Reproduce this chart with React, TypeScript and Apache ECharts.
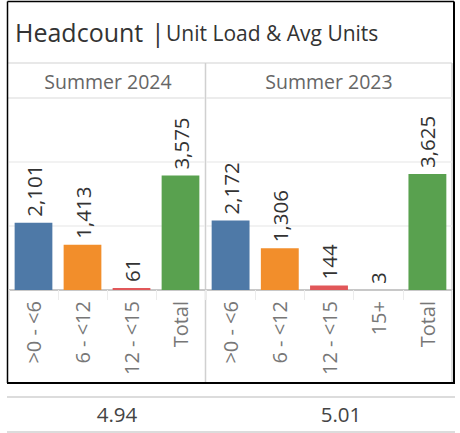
import React, { useEffect, useRef } from "react";
import * as echarts from "echarts";

const panels = ["Summer 2024", "Summer 2023"];
const categories2024 = [">0 - <6", "6 - <12", "12 - <15", "Total"];
const values2024 = [2101, 1413, 61, 3575];
const categories2023 = [">0 - <6", "6 - <12", "12 - <15", "15+", "Total"];
const values2023 = [2172, 1306, 144, 3, 3625];
const avgUnits = ["4.94", "5.01"];
const yTicks = { min: 0, max: 6000, interval: 2000 };

const colorFor: Record<string, string> = {
  ">0 - <6": "#4E79A7",
  "6 - <12": "#F28E2B",
  "12 - <15": "#E15759",
  "15+": "#76B7B2",
  Total: "#59A14F",
};

const FONT = "Open Sans";

export default function App() {
  const ref = useRef<HTMLDivElement>(null);
  useEffect(() => {
    document.body.style.margin = "0";
    const chart = echarts.init(ref.current!, undefined, { renderer: "svg" });
    const grids = [
      { left: 9, top: 98, width: 196, height: 192 },
      { left: 206, top: 98, width: 246, height: 192 },
    ];
    const cats = [categories2024, categories2023];
    const vals = [values2024, values2023];
    const xAxis = cats.map((c, i) => ({
      type: "category",
      gridIndex: i,
      data: c,
      axisLine: { show: true, lineStyle: { color: "#c8c8c8", width: 2 } },
      axisTick: { show: true, length: 10, lineStyle: { color: "#ececec", width: 1 } },
      axisLabel: {
        rotate: 90,
        color: "#777",
        fontSize: 20,
        fontFamily: FONT,
        margin: 11,
        interval: 0,
      },
    }));
    const yAxis = cats.map((_, i) => ({
      type: "value",
      gridIndex: i,
      min: yTicks.min,
      max: yTicks.max,
      interval: yTicks.interval,
      axisLine: { show: false },
      axisTick: { show: false },
      axisLabel: { show: false },
      splitLine: { show: true, lineStyle: { color: "#eeeeee", width: 1.5 } },
    }));
    const series = vals.map((v, i) => ({
      type: "bar",
      xAxisIndex: i,
      yAxisIndex: i,
      barWidth: "77%",
      data: v.map((val, j) => ({
        value: val,
        itemStyle: { color: colorFor[cats[i][j]] },
      })),
      label: {
        show: true,
        position: "top",
        rotate: 90,
        align: "left",
        verticalAlign: "middle",
        distance: 6,
        color: "#333",
        fontSize: 20.5,
        fontFamily: FONT,
        formatter: (p: any) => Number(p.value).toLocaleString("en-US"),
      },
    }));
    const gray = "#d0d0d0";
    chart.setOption({
      animation: false,
      grid: grids,
      xAxis,
      yAxis,
      series,
      graphic: [
        // panel lines
        { type: "line", shape: { x1: 8, y1: 63, x2: 452, y2: 63 }, style: { stroke: "#e0e0e0", lineWidth: 1.5 } },
        { type: "line", shape: { x1: 8, y1: 98, x2: 452, y2: 98 }, style: { stroke: "#e0e0e0", lineWidth: 1.5 } },
        { type: "line", shape: { x1: 205.5, y1: 63, x2: 205.5, y2: 383 }, style: { stroke: gray, lineWidth: 1.5 } },
        { type: "line", shape: { x1: 452, y1: 63, x2: 452, y2: 383 }, style: { stroke: gray, lineWidth: 1.5 } },
        // outer border
        { type: "line", shape: { x1: 7.5, y1: 1.5, x2: 454, y2: 1.5 }, style: { stroke: "#000", lineWidth: 1.5 } },
        { type: "line", shape: { x1: 7.5, y1: 1.5, x2: 7.5, y2: 383 }, style: { stroke: "#000", lineWidth: 1.5 } },
        { type: "line", shape: { x1: 454, y1: 1.5, x2: 454, y2: 384 }, style: { stroke: "#000", lineWidth: 2 } },
        { type: "line", shape: { x1: 7, y1: 383, x2: 455, y2: 383 }, style: { stroke: "#000", lineWidth: 2 } },
        // title
        {
          type: "text",
          x: 15,
          y: 32,
          style: { text: "Headcount", fontSize: 25, fontFamily: FONT, fill: "#333", verticalAlign: "middle" },
        },
        {
          type: "text",
          x: 151,
          y: 32,
          style: { text: "|", fontSize: 25, fontFamily: FONT, fill: "#333", verticalAlign: "middle" },
        },
        {
          type: "text",
          x: 166,
          y: 33,
          style: { text: "Unit Load & Avg Units", fontSize: 21, fontFamily: FONT, fill: "#333", verticalAlign: "middle" },
        },
        // panel headers
        ...panels.map((p, i) => ({
          type: "text",
          x: i === 0 ? 108 : 329,
          y: 81,
          style: { text: p, fontSize: 19.5, fontFamily: FONT, fill: "#666", align: "center", verticalAlign: "middle" },
        })),
        // bottom table
        { type: "line", shape: { x1: 7, y1: 397, x2: 455, y2: 397 }, style: { stroke: gray, lineWidth: 1.5 } },
        { type: "line", shape: { x1: 7, y1: 432, x2: 455, y2: 432 }, style: { stroke: gray, lineWidth: 1.5 } },
        ...avgUnits.map((v, i) => ({
          type: "text",
          x: i === 0 ? 117 : 341,
          y: 414,
          style: { text: v, fontSize: 20.5, fontFamily: FONT, fill: "#444", align: "center", verticalAlign: "middle" },
        })),
      ],
    });
    return () => chart.dispose();
  }, []);
  return <div ref={ref} style={{ width: 460, height: 433 }} />;
}
